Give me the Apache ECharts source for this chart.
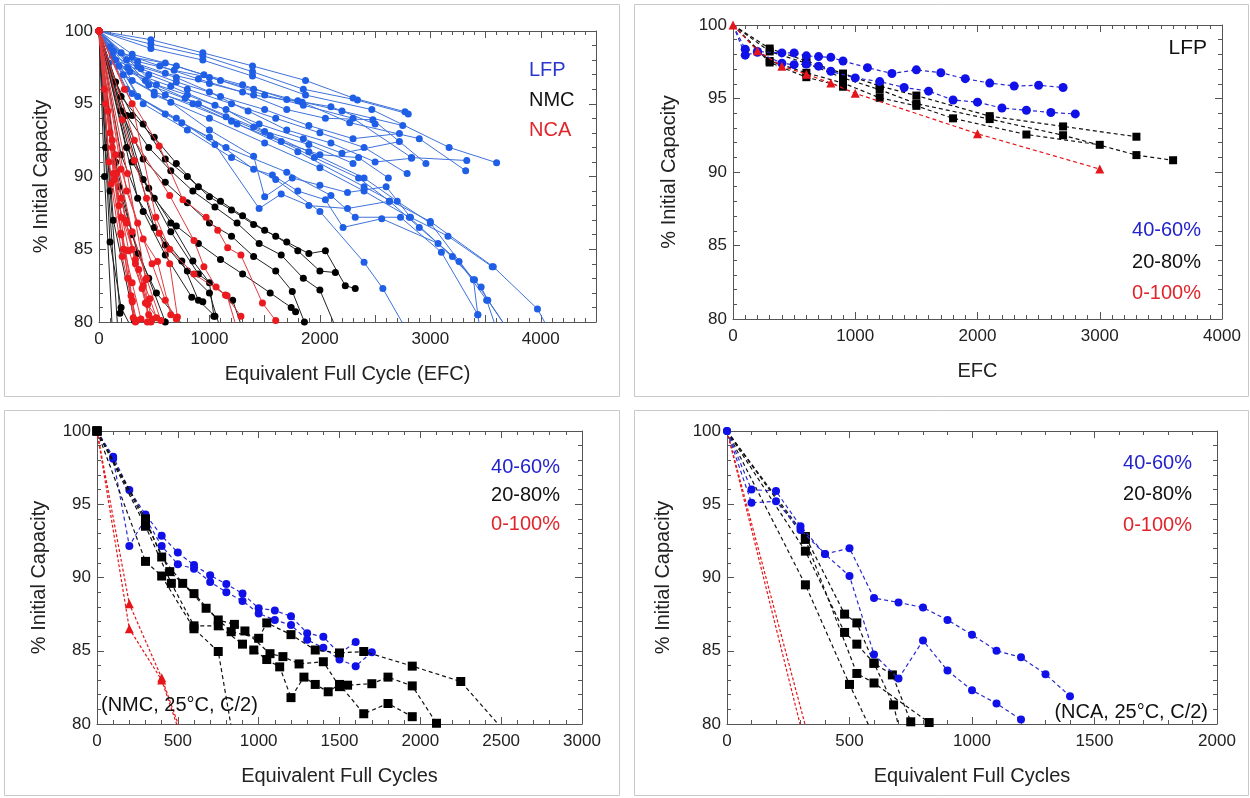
<!DOCTYPE html>
<html>
<head>
<meta charset="utf-8">
<script src="https://cdn.jsdelivr.net/npm/echarts@6/dist/echarts.min.js"></script>
<style>
  html, body { margin: 0; padding: 0; background: #fff; }
  #chart { width: 1250px; height: 798px; }
</style>
</head>
<body>
<div id="chart"></div>
<script>
// ---------- Panel A: all cells, capacity vs equivalent full cycles ----------
const lfpCells = [
  [[0,100],[470,99.4],[940,98.5],[1390,97.6],[1870,96.6],[2300,95.4],[2770,94.45]],
  [[0,100],[470,99.1],[940,98.3],[1390,97.2],[1850,96.0],[2340,95.25],[2800,94.3]],
  [[0,100],[470,98.8],[940,98.0],[1390,96.9],[1870,95.6],[2470,94.6],[3170,92.0],[3600,90.95]],
  [[0,100],[300,98.4],[700,97.6],[1100,96.6],[1500,95.6],[1850,94.9],[2300,94.0],[2830,91.3],[3330,91.1]],
  [[0,100],[250,98.0],[600,97.1],[1000,96.4],[1400,95.6],[1840,95.1],[2270,93.7],[2900,92.6],[3320,90.4]],
  [[0,100],[200,98.5],[550,97.6],[900,96.7],[1300,95.8],[1700,94.6],[2050,94.0],[2480,93.9],[2960,90.9]],
  [[0,100],[350,97.6],[700,96.8],[1100,95.5],[1500,94.6],[1900,93.5],[2300,92.6],[2720,92.95]],
  [[0,100],[150,98.0],[450,97.0],[800,96.0],[1200,95.0],[1600,94.0],[2000,93.0],[2400,92.0],[2790,90.2]],
  [[0,100],[280,97.2],[650,96.2],[1050,94.9],[1450,93.6],[1850,92.6],[2200,91.6],[2720,92.4]],
  [[0,100],[220,97.0],[500,95.8],[850,95.0],[1250,93.6],[1650,92.4],[2000,91.5],[2350,91.3],[2620,89.9]],
  [[0,100],[120,98.3],[380,97.4],[700,96.5],[1000,95.8],[1350,94.5],[1700,93.2],[2100,92.3],[2500,91.0],[2830,91.25]],
  [[0,100],[100,98.9],[300,98.2],[600,97.8],[950,97.0],[1300,96.3],[1700,95.3],[2100,94.8],[2500,93.6]],
  [[0,100],[130,98.6],[350,97.9],[680,97.3],[1000,96.8],[1400,96.0],[1800,95.2],[2200,94.5],[2750,93.5]],
  [[0,100],[90,97.8],[260,97.5],[520,96.3],[800,95.6],[1150,94.6],[1500,93.1],[1900,92.2],[2300,90.9]],
  [[0,100],[300,96.6],[650,95.1],[1000,93.2],[1400,91.4],[1500,88.6],[1750,89.9],[2000,89.4],[2250,88.9],[2600,89.3],[2820,87.2],[3160,85.9],[3560,83.8]],
  [[0,100],[250,96.0],[600,94.3],[1000,92.7],[1400,90.5],[1570,90.1],[1800,89.0],[2050,88.4],[2210,86.5],[2560,87.1],[3070,85.4],[3400,82.9],[3700,79.5]],
  [[0,100],[350,95.5],[700,94.0],[1050,92.2],[1450,87.8],[1650,88.8],[1900,88.0],[2250,87.8],[2630,88.3],[2900,86.5],[3260,84.15],[3510,81.5],[3600,79.5]],
  [[0,100],[400,95.0],[800,93.2],[1200,91.3],[1600,89.8],[2000,87.6],[2400,84.1],[2570,82.3],[2780,79.5]],
  [[0,100],[300,95.7],[750,93.7],[1150,92.0],[1700,90.3],[2100,88.7],[2320,87.2],[2730,87.2],[3100,84.8],[3430,80.5],[3450,79.5]],
  [[0,100],[500,95.6],[1000,94.0],[1500,92.3],[2000,90.6],[2400,89.0],[2810,87.2],[3200,84.5],[3460,82.4],[3520,81.5],[3700,79.5]],
  [[0,100],[600,95.6],[1200,93.8],[1800,91.7],[2400,89.3],[3000,86.9],[3570,83.8],[3970,80.9],[4070,79.5]],
  [[0,100],[450,96.3],[900,95.0],[1400,93.4],[1900,91.7],[2400,89.9],[2700,88.3],[3000,86.8],[3390,82.9],[3430,80.5]],
  [[0,100],[180,97.6],[420,96.6],[780,95.4],[1150,94.1],[1550,92.8],[1950,91.3],[2350,89.9],[2630,88.3]]
];
const nmcCells = [
  [[0,100],[150,96.5],[300,94.2],[500,92.7],[700,90.9],[900,89.3],[1100,88.3],[1300,87.3],[1500,86.3],[1700,85.5],[1900,84.7],[2050,84.9],[2230,82.5],[2320,82.3]],
  [[0,100],[200,95.5],[400,93.6],[600,91.2],[800,90.0],[1000,88.6],[1200,87.7],[1400,86.7],[1600,85.9],[1800,84.9],[2000,83.5],[2140,83.4]],
  [[0,100],[250,94.2],[450,92.0],[650,90.4],[850,89.0],[1050,87.9],[1250,86.8],[1450,85.4],[1650,84.6],[1850,83.0],[2000,82.2],[2150,79.5]],
  [[0,100],[200,94.5],[400,91.2],[600,89.6],[800,88.2],[1000,86.8],[1200,85.9],[1400,84.5],[1600,83.5],[1750,82.1],[1860,80.0]],
  [[0,100],[300,91.0],[500,88.5],[700,86.6],[900,85.4],[1100,84.3],[1300,83.3],[1550,82.0],[1740,81.0],[1780,80.7]],
  [[0,100],[250,92.0],[450,89.2],[650,86.8],[850,84.2],[1000,82.7],[1040,80.4]],
  [[0,100],[200,91.5],[400,87.6],[600,84.6],[840,81.7],[940,81.4]],
  [[0,100],[150,91.0],[300,86.0],[450,83.0],[600,80.0]],
  [[0,100],[100,89.0],[190,80.6]],
  [[0,100],[130,87.0],[320,80.1]],
  [[0,100],[60,92.0],[170,79.5]],
  [[0,100],[100,85.5],[200,81.0],[300,79.5]],
  [[0,100],[350,88.5],[600,85.3],[800,83.5],[1000,82.0],[1100,79.5]],
  [[0,100],[500,86.5],[750,84.2],[900,81.5],[1050,80.4]],
  [[0,100],[400,89.8],[650,86.2],[900,83.3],[1210,81.5],[1300,79.5]],
  [[0,100],[50,90.0],[120,79.5]],
  [[0,100],[180,89.3],[350,84.7],[520,82.0],[790,79.5]]
];
const ncaCells = [
  [[0,100],[230,96.0],[545,92.1],[760,88.4],[970,87.2],[1075,86.3],[1165,85.1],[1285,84.6],[1480,81.3],[1600,80.1]],
  [[0,100],[320,92.5],[640,88.7],[860,85.6],[950,83.8],[1060,82.4],[1145,81.85],[1285,80.4]],
  [[0,100],[300,95.0],[515,87.2],[640,85.0],[860,83.3],[1160,81.8],[1250,79.5]],
  [[0,100],[210,93.9],[320,91.1],[430,88.5],[545,86.1],[640,84.0],[710,80.35]],
  [[0,100],[100,93.0],[200,88.5],[300,85.0],[400,82.5],[480,80.2]],
  [[0,100],[80,94.5],[160,90.2],[250,86.8],[330,84.0],[420,81.3],[470,80.0]],
  [[0,100],[120,92.0],[240,87.0],[360,83.6],[450,80.5]],
  [[0,100],[150,91.5],[300,86.2],[430,83.0],[560,80.1]],
  [[0,100],[90,91.0],[200,86.0],[300,82.7],[380,80.2]],
  [[0,100],[110,89.5],[210,84.5],[290,81.8],[340,80.1]],
  [[0,100],[200,90.5],[350,86.8],[480,84.0],[600,81.5],[700,80.2]],
  [[0,100],[250,89.0],[400,85.7],[530,84.15],[650,80.5]],
  [[0,100],[60,95.0],[140,89.8],[220,85.0],[300,81.5],[330,80.0]],
  [[0,100],[180,88.0],[330,84.3],[460,81.6],[520,80.3]],
  [[0,100],[130,90.2],[270,84.9],[390,82.3],[440,81.2],[600,79.5]],
  [[0,100],[50,96.0],[120,92.5],[200,87.2],[260,83.0],[310,80.3]],
  [[0,100],[257,90.2],[423,82.9],[438,80.0]],
  [[0,100],[197,86.1],[242,84.95],[302,81.4],[330,79.5]]
];

// ---------- Panel B: LFP by state-of-charge window ----------
const lfpSoc4060 = [
  [[0,100],[100,98.35],[200,98.2],[400,98.1],[500,98.1],[600,97.9],[700,97.85],[800,97.8],[900,97.55],[1100,97.1],[1300,96.7],[1500,96.95],[1700,96.75],[1900,96.35],[2100,96.05],[2300,95.85],[2500,95.9],[2700,95.75]],
  [[0,100],[100,97.95],[200,98.15],[400,97.4],[500,97.3],[600,97.35],[700,97.2],[800,96.85],[1000,96.4],[1200,96.15],[1400,95.75],[1600,95.5],[1800,94.9],[2000,94.75],[2200,94.35],[2400,94.2],[2600,94.05],[2800,93.95]]
];
const lfpSoc2080 = [
  [[0,100],[300,98.4],[600,97.55],[900,96.7],[1200,95.85],[1500,95.2],[2100,93.8],[2700,93.1],[3300,92.4]],
  [[0,100],[300,98.2],[600,97.4],[900,96.4],[1200,95.6],[1500,94.65],[2100,93.6],[2700,92.5],[3300,91.15],[3600,90.8]],
  [[0,100],[300,97.55],[600,96.75],[900,96.05],[1200,95.05],[1500,94.5],[1800,93.65],[2400,92.55],[3000,91.85]],
  [[0,100],[300,97.45],[600,96.45],[900,95.8]]
];
const lfpSoc0100 = [
  [[0,100],[200,98.25],[400,97.2],[600,96.65],[800,96.05],[1000,95.35],[2000,92.6],[3000,90.2]]
];

// ---------- Panel C: NMC, 25°C, C/2 ----------
const nmcSoc4060 = [
  [[0,100],[100,98.25],[200,95.97],[300,94.3],[400,92.85],[500,91.7],[600,90.85],[700,90.15],[800,89.55],[900,88.9],[1000,87.9],[1100,87.75],[1200,87.35],[1300,86.2],[1400,85.95],[1500,84.8],[1600,85.6]],
  [[0,100],[100,98.1],[200,92.15],[300,94.05],[400,92.15],[500,90.9],[600,90.6],[700,89.7],[800,89.0],[900,88.4],[1000,87.55],[1100,87.1],[1200,86.75],[1300,85.75],[1400,85.2],[1500,84.4],[1600,83.95],[1700,84.9]]
];
const nmcSoc2080 = [
  [[0,100],[300,94.0],[400,91.4],[530,89.6],[675,87.9],[830,86.3],[1000,85.85],[1050,86.9],[1200,86.1],[1350,85.05],[1500,84.85],[1650,84.95],[1950,83.95],[2250,82.9],[2520,79.5]],
  [[0,100],[300,93.8],[450,90.4],[600,88.9],[750,87.1],[850,86.8],[915,86.35],[1070,84.8],[1150,84.6],[1250,84.1],[1400,84.25],[1500,82.55],[1550,82.65],[1700,82.75],[1800,83.2],[1950,82.6],[2100,80.05]],
  [[0,100],[300,93.5],[460,89.6],[600,86.7],[750,86.7],[900,85.45],[970,85.05],[1050,84.4],[1130,83.9],[1200,81.8],[1280,83.2],[1350,82.7],[1430,82.2],[1500,82.7],[1650,80.7],[1800,81.4],[1950,80.5]],
  [[0,100],[300,91.1],[400,90.1],[600,86.5],[750,84.95],[835,79.5]]
];
const nmcSoc0100 = [
  [[0,100],[200,88.2],[400,83.15],[518,79.5]],
  [[0,100],[200,86.5],[400,83.0],[508,79.5]]
];

// ---------- Panel D: NCA, 25°C, C/2 ----------
const ncaSoc4060 = [
  [[0,100],[100,96.0],[200,95.9],[300,93.5],[400,91.6],[500,92.0],[600,88.6],[700,88.3],[800,87.95],[900,87.1],[1000,86.1],[1100,85.0],[1200,84.55],[1300,83.4],[1400,81.9]],
  [[0,100],[100,95.1],[200,95.2],[300,93.25],[400,91.6],[500,90.1],[600,84.75],[700,83.1],[800,85.7],[900,83.65],[1000,82.3],[1100,81.4],[1200,80.3]]
];
const ncaSoc2080 = [
  [[0,100],[320,89.5],[500,82.7],[590,79.5]],
  [[0,100],[320,91.8],[480,86.25],[530,85.45],[600,84.15],[680,81.3],[705,79.5]],
  [[0,100],[320,92.8],[480,87.5],[530,86.9],[600,84.15],[675,83.35],[750,80.15]],
  [[0,100],[320,92.6],[530,83.45],[600,82.8],[825,80.1]]
];
const ncaSoc0100 = [
  [[0,100],[298,80]],
  [[0,100],[318,80]]
];

const FONT = '"Liberation Sans", Arial, Helvetica, sans-serif';
const AXIS_COLOR = '#555';

// plot areas
const grids = [
  { left: 99,  top: 31,  width: 497, height: 291 },
  { left: 733, top: 25,  width: 489, height: 294 },
  { left: 97,  top: 431, width: 485, height: 293 },
  { left: 727, top: 431, width: 490, height: 293 }
];

const xAxes = [], yAxes = [];

function tickAxis(dim, gi, pos, lim, showLabels, name, nameGap) {
  const every = lim.labelEvery || lim.step;
  const ax = {
    type: 'value', gridIndex: gi, position: pos,
    min: lim.min, max: lim.max, interval: lim.step,
    axisLine: { show: true, onZero: false, lineStyle: { color: AXIS_COLOR, width: 1 } },
    axisTick: { show: true, inside: true, length: 7, lineStyle: { color: AXIS_COLOR, width: 1 } },
    minorTick: { show: true, splitNumber: lim.minor, length: 4, lineStyle: { color: AXIS_COLOR, width: 1 } },
    splitLine: { show: false },
    axisLabel: {
      show: showLabels, color: '#222', fontSize: 17, fontFamily: FONT,
      margin: dim === 'x' ? 9 : 6,
      formatter: v => (v % every === 0 ? String(v) : '')
    }
  };
  if (name) {
    Object.assign(ax, {
      name: name, nameLocation: 'middle', nameGap: nameGap,
      nameTextStyle: { color: '#222', fontSize: 20, fontFamily: FONT }
    });
  }
  return ax;
}

function addFrame(gi, xl, yl, xName, xGap, yName, yGap) {
  xAxes.push(tickAxis('x', gi, 'bottom', xl, true, xName, xGap));
  yAxes.push(tickAxis('y', gi, 'left', yl, true, yName, yGap));
}
function addOppositeFrame(gi, xl, yl) {
  xAxes.push(tickAxis('x', gi, 'top', xl, false));
  yAxes.push(tickAxis('y', gi, 'right', yl, false));
}

const yLim = { min: 80, max: 100, step: 5, minor: 5 };
const xLims = [
  { min: 0, max: 4500, step: 500, minor: 5, labelEvery: 1000 },
  { min: 0, max: 4000, step: 1000, minor: 10 },
  { min: 0, max: 3000, step: 500, minor: 5 },
  { min: 0, max: 2000, step: 500, minor: 5 }
];
addFrame(0, xLims[0], yLim, 'Equivalent Full Cycle (EFC)', 42, '% Initial Capacity', 48);
addFrame(1, xLims[1], yLim, 'EFC', 42, '% Initial Capacity', 54);
addFrame(2, xLims[2], yLim, 'Equivalent Full Cycles', 42, '% Initial Capacity', 48);
addFrame(3, xLims[3], yLim, 'Equivalent Full Cycles', 42, '% Initial Capacity', 54);
for (let g = 0; g < 4; g++) addOppositeFrame(g, xLims[g], yLim);

function groupSeries(list, gi, opt) {
  return list.map(points => ({
    type: 'line',
    xAxisIndex: gi, yAxisIndex: gi,
    clip: true,
    animation: false,
    z: opt.z,
    symbol: opt.symbol,
    symbolSize: opt.size,
    showSymbol: opt.symbol !== 'none',
    itemStyle: { color: opt.color, borderWidth: 0 },
    lineStyle: { color: opt.line, width: opt.width, type: opt.dash || 'solid' },
    emphasis: { disabled: true },
    // points below the frame only steer the line out of view; the origin marker can be left to another group
    data: points.map(p => ((p[1] < 80 || (opt.hideOrigin && p[0] === 0)) ? { value: p, symbol: 'none' } : p))
  }));
}

const dash = [4, 3];
const series = [].concat(
  groupSeries(lfpCells, 0, { symbol: 'circle', size: 7, color: '#1f5fe6', line: '#3f72da', width: 1, z: 2 }),
  groupSeries(nmcCells, 0, { symbol: 'circle', size: 7, color: '#000', line: '#222', width: 1, z: 3 }),
  groupSeries(ncaCells, 0, { symbol: 'circle', size: 7, color: '#ea1a1f', line: '#e33a3e', width: 1, z: 4 }),

  groupSeries(lfpSoc4060, 1, { symbol: 'circle', size: 9, color: '#1010e8', line: '#2a2ad0', width: 1.2, dash, z: 3, hideOrigin: true }),
  groupSeries(lfpSoc2080, 1, { symbol: 'rect', size: 8, color: '#000', line: '#111', width: 1.2, dash, z: 2, hideOrigin: true }),
  groupSeries(lfpSoc0100, 1, { symbol: 'triangle', size: 9, color: '#e5161b', line: '#e5161b', width: 1.2, dash, z: 4 }),

  groupSeries(nmcSoc4060, 2, { symbol: 'circle', size: 8, color: '#1010e8', line: '#2a2ad0', width: 1.2, dash, z: 3, hideOrigin: true }),
  groupSeries(nmcSoc2080, 2, { symbol: 'rect', size: 9, color: '#000', line: '#111', width: 1.2, dash, z: 4 }),
  groupSeries(nmcSoc0100, 2, { symbol: 'triangle', size: 9, color: '#e5161b', line: '#e5161b', width: 1.2, dash: [3, 2], z: 2, hideOrigin: true }),

  groupSeries(ncaSoc4060, 3, { symbol: 'circle', size: 8, color: '#1010e8', line: '#2a2ad0', width: 1.2, dash, z: 3 }),
  groupSeries(ncaSoc2080, 3, { symbol: 'rect', size: 9, color: '#000', line: '#111', width: 1.2, dash, z: 2, hideOrigin: true }),
  groupSeries(ncaSoc0100, 3, { symbol: 'none', size: 0, color: '#e5161b', line: '#e5161b', width: 1.2, dash: [3, 2], z: 1 })
);

const BLUE_TXT = '#2323cc', RED_TXT = '#e0262c', BLACK_TXT = '#111';
function label(x, y, text, fill, size, align) {
  return {
    type: 'text', x: x, y: y, z: 10, silent: true,
    style: { text: text, fill: fill, font: size + 'px ' + FONT, align: align || 'left', verticalAlign: 'middle' }
  };
}
function box(x, y, w, h) {
  return { type: 'rect', z: 0, silent: true, shape: { x: x, y: y, width: w, height: h },
           style: { fill: 'none', stroke: '#c9c9c9', lineWidth: 1 } };
}

const graphics = [
  box(4.5, 4.5, 615, 392), box(634.5, 4.5, 614, 392),
  box(4.5, 410.5, 615, 385), box(634.5, 410.5, 614, 385),

  label(529, 70, 'LFP', '#2a36cc', 20), label(529, 100, 'NMC', BLACK_TXT, 20), label(529, 130, 'NCA', RED_TXT, 20),

  label(1207, 48, 'LFP', BLACK_TXT, 21, 'right'),
  label(1201, 230, '40-60%', BLUE_TXT, 20, 'right'),
  label(1201, 262, '20-80%', BLACK_TXT, 20, 'right'),
  label(1201, 293, '0-100%', RED_TXT, 20, 'right'),

  label(560, 467, '40-60%', BLUE_TXT, 20, 'right'),
  label(560, 495, '20-80%', BLACK_TXT, 20, 'right'),
  label(560, 524, '0-100%', RED_TXT, 20, 'right'),
  label(101, 705, '(NMC, 25°C, C/2)', BLACK_TXT, 20),

  label(1192, 463, '40-60%', BLUE_TXT, 20, 'right'),
  label(1192, 494, '20-80%', BLACK_TXT, 20, 'right'),
  label(1192, 525, '0-100%', RED_TXT, 20, 'right'),
  label(1208, 712, '(NCA, 25°C, C/2)', BLACK_TXT, 20, 'right')
];

const chart = echarts.init(document.getElementById('chart'), null, { renderer: 'canvas' });
chart.setOption({
  animation: false,
  backgroundColor: '#fff',
  grid: grids.map(g => Object.assign({ containLabel: false }, g)),
  xAxis: xAxes,
  yAxis: yAxes,
  series: series,
  graphic: graphics
});
</script>
</body>
</html>
